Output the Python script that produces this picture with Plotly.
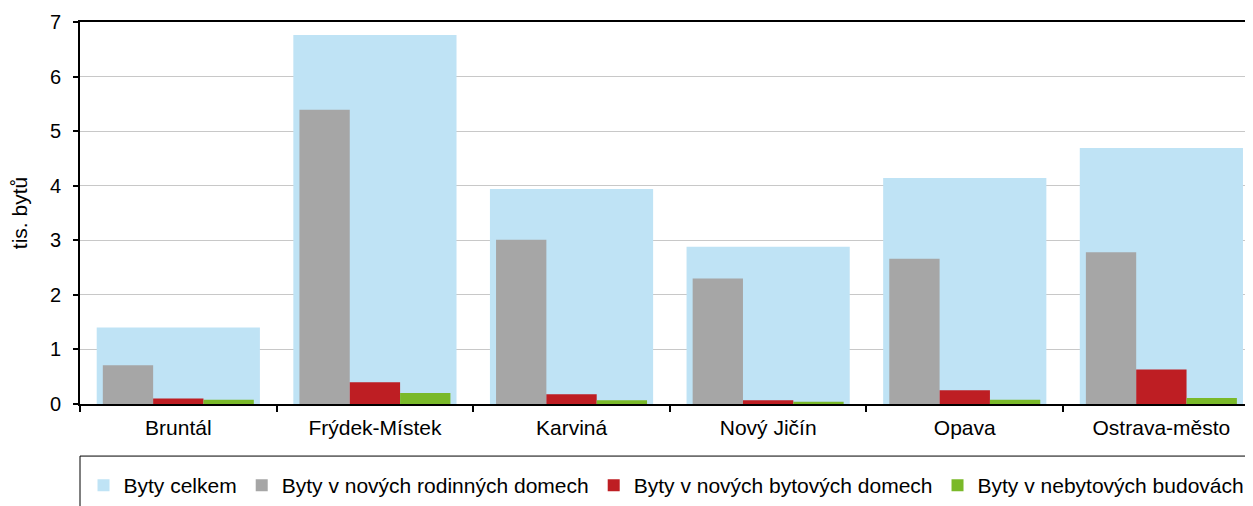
import plotly.graph_objects as go

categories = ["Bruntál", "Frýdek-Místek", "Karviná", "Nový Jičín", "Opava", "Ostrava-město"]
byty_celkem = [1.40, 6.76, 3.94, 2.88, 4.14, 4.69]
rodinne_domy = [0.71, 5.39, 3.01, 2.30, 2.66, 2.78]
bytove_domy = [0.10, 0.40, 0.18, 0.07, 0.25, 0.63]
nebytove_budovy = [0.08, 0.20, 0.07, 0.04, 0.08, 0.11]

series_names = ["Byty celkem", "Byty v nových rodinných domech",
                "Byty v nových bytových domech", "Byty v nebytových budovách"]
colors = ["#BFE3F5", "#A6A6A6", "#BE1E23", "#7AB929"]

FONT = "Liberation Sans, Arial, sans-serif"

fig = go.Figure()
fig.add_bar(x=categories, y=byty_celkem, name=series_names[0], marker_color=colors[0],
            width=0.83, offset=-0.415, marker_line_width=0)
narrow = 0.256
for i, (vals, nm, col) in enumerate(zip([rodinne_domy, bytove_domy, nebytove_budovy],
                                          series_names[1:], colors[1:])):
    fig.add_bar(x=categories, y=vals, name=nm, marker_color=col,
                width=narrow, offset=-1.5 * narrow + i * narrow, marker_line_width=0)

fig.update_layout(
    width=1245, height=498,
    margin=dict(l=72, r=0, t=14, b=100),
    barmode="overlay",
    plot_bgcolor="white", paper_bgcolor="white",
    font=dict(family=FONT, color="#000000", size=21),
    showlegend=True,
    legend=dict(orientation="h", x=0.003, xanchor="left", y=-0.2145, yanchor="middle",
                font=dict(size=21, family=FONT), bgcolor="rgba(0,0,0,0)",
                borderwidth=0, traceorder="normal", itemwidth=30),
    shapes=[dict(type="rect", xref="paper", yref="paper", x0=0, x1=1.02, y0=-0.1363, y1=-0.4,
                 line=dict(color="#000000", width=1), fillcolor="rgba(0,0,0,0)", layer="above")],
)
fig.update_xaxes(
    type="category", range=[-0.5, 5.466],
    showline=True, linecolor="#000000", linewidth=2, mirror=True,
    ticks="outside", ticklen=6, tickwidth=1.5, tickcolor="#000000", tickson="boundaries",
    showgrid=False, tickfont=dict(size=21, family=FONT), ticklabelstandoff=4,
)
fig.update_yaxes(
    range=[0, 7], dtick=1, tick0=0,
    showline=True, linecolor="#000000", linewidth=2,
    ticks="outside", ticklen=5, tickwidth=1.5, tickcolor="#000000",
    showgrid=True, gridcolor="#C8C8C8", gridwidth=1, zeroline=False,
    tickfont=dict(size=20, family=FONT), ticklabelstandoff=8,
    title=dict(text="tis. bytů", font=dict(size=21, family=FONT), standoff=18),
)

fig.write_html("out.html")
